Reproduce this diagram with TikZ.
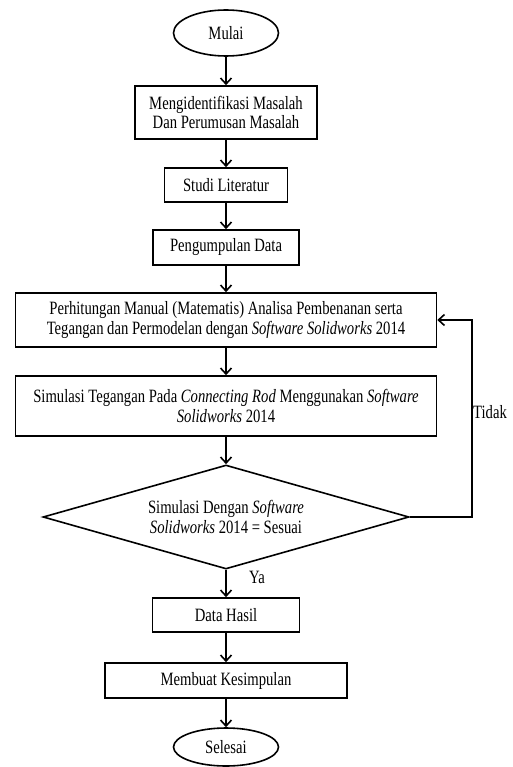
\documentclass[tikz,border=0pt]{standalone}
\usepackage{fontspec}
\setmainfont{Liberation Serif}[FakeStretch=0.78]
\usetikzlibrary{shapes.geometric,arrows.meta}
\begin{document}
\begin{tikzpicture}[x=1pt,y=-1pt,
  every node/.style={font=\fontsize{18.8}{19.5}\selectfont, inner sep=0pt, align=center},
  boxnode/.style={draw, line width=1.6pt, rectangle},
  endnode/.style={draw, line width=1.6pt, ellipse},
  decnode/.style={draw, line width=1.6pt, diamond},
  conn/.style={line width=1.6pt, -{Straight Barb[length=6pt,width=11pt,line width=1.6pt]}},
  lbl/.style={font=\fontsize{18.8}{19.5}\selectfont}]
\useasboundingbox (0,0) rectangle (512,767);
\node[endnode, minimum width=105pt, minimum height=46pt] (start) at (226,33) {Mulai};
\node[boxnode, minimum width=182pt, minimum height=53pt] (b1) at (226,112.5) {Mengidentifikasi Masalah\\Dan Perumusan Masalah};
\node[boxnode, minimum width=123pt, minimum height=34pt] (b2) at (226,185) {Studi Literatur};
\node[boxnode, minimum width=146pt, minimum height=35pt] (b3) at (226,247.5) {Pengumpulan Data};
\node[boxnode, minimum width=421pt, minimum height=54pt] (b4) at (226,320) {Perhitungan Manual (Matematis) Analisa Pembenanan serta\\Tegangan dan Permodelan dengan \textit{Software Solidworks} 2014};
\node[boxnode, minimum width=421pt, minimum height=60pt] (b5) at (226,406) {Simulasi Tegangan Pada \textit{Connecting Rod} Menggunakan \textit{Software}\\\textit{Solidworks} 2014};
\node[decnode, minimum width=366pt, minimum height=104pt, aspect=3.52] (d) at (226,517) {Simulasi Dengan \textit{Software}\\\textit{Solidworks} 2014 = Sesuai};
\node[boxnode, minimum width=147pt, minimum height=34pt] (b6) at (226,615) {Data Hasil};
\node[boxnode, minimum width=242pt, minimum height=35pt] (b7) at (226,680.5) {Membuat Kesimpulan};
\node[endnode, minimum width=105pt, minimum height=38pt] (end) at (226,747) {Selesai};
\node[lbl] (tidak) at (490,412) {Tidak};
\node[lbl] (ya) at (257,577) {Ya};
\coordinate (fb) at (472,517);
\draw[conn] (start) -- (b1);
\draw[conn] (b1) -- (b2);
\draw[conn] (b2) -- (b3);
\draw[conn] (b3) -- (b4);
\draw[conn] (b4) -- (b5);
\draw[conn] (b5) -- (d);
\draw[conn] (d) -- (b6);
\draw[conn] (b6) -- (b7);
\draw[conn] (b7) -- (end);
\draw[conn] (d.east) -- (fb) |- (b4.east);
\end{tikzpicture}
\end{document}
